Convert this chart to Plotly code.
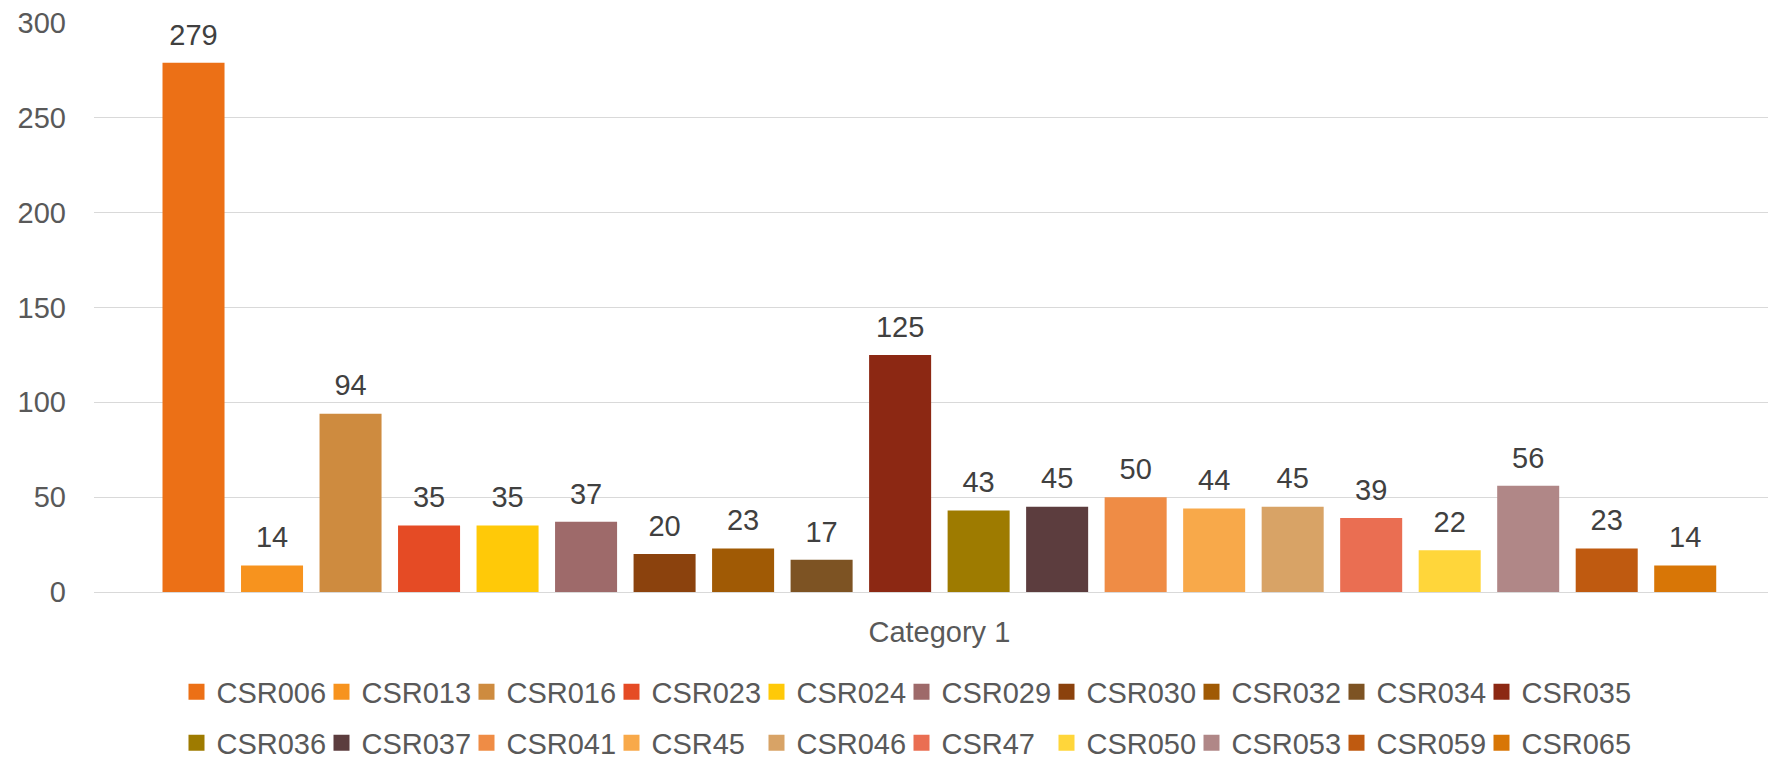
import plotly.graph_objects as go

category = ["Category 1"]
series_names = ["CSR006", "CSR013", "CSR016", "CSR023", "CSR024", "CSR029", "CSR030",
                "CSR032", "CSR034", "CSR035", "CSR036", "CSR037", "CSR041", "CSR45",
                "CSR046", "CSR47", "CSR050", "CSR053", "CSR059", "CSR065"]
series_values = [279, 14, 94, 35, 35, 37, 20, 23, 17, 125,
                 43, 45, 50, 44, 45, 39, 22, 56, 23, 14]
series_colors = ["#EC7016", "#F7931E", "#CE8B3F", "#E54B25", "#FFC908", "#9E6A6A",
                 "#8B420D", "#A05A05", "#7D5323", "#8C2813", "#9E7B00", "#5C3D3E",
                 "#EF8C45", "#F8A94A", "#D8A366", "#EA6E52", "#FFD63A", "#B08787",
                 "#BF5A10", "#D87606"]
y_ticks = [0, 50, 100, 150, 200, 250, 300]

FONT = "Liberation Sans, Arial, sans-serif"
FS = 29
W, H = 1768, 759

fig = go.Figure()

for name, val, col in zip(series_names, series_values, series_colors):
    fig.add_trace(go.Bar(
        x=category, y=[val], name=name,
        marker=dict(color=col, line=dict(width=0)),
        showlegend=False, hoverinfo="skip",
    ))

# value labels, grouped the same way as the bars
for name, val in zip(series_names, series_values):
    fig.add_trace(go.Scatter(
        x=category, y=[val], mode="markers+text",
        text=[str(val)], textposition="top center",
        textfont=dict(family=FONT, size=FS, color="#404040"),
        marker=dict(size=16, color="rgba(0,0,0,0)"),
        showlegend=False, hoverinfo="skip", cliponaxis=False,
    ))

# legend: one small legend per entry so the columns line up like excel's
legends = {}
for i, (name, col) in enumerate(zip(series_names, series_colors)):
    key = "legend" if i == 0 else f"legend{i + 1}"
    row, c = divmod(i, 10)
    fig.add_trace(go.Scatter(
        x=[None], y=[None], name=name, mode="markers",
        marker=dict(symbol="square", size=17, color=col, line=dict(width=0)),
        xaxis="x2", yaxis="y2", legend=key, hoverinfo="skip",
    ))
    legends[key] = dict(
        x=(176.5 + c * 145) / W, y=1 - (692 + row * 51) / H,
        xref="container", yref="container", xanchor="left", yanchor="middle",
        orientation="h", itemsizing="trace",
        font=dict(family=FONT, size=FS, color="#595959"),
        bgcolor="rgba(0,0,0,0)", itemclick=False, itemdoubleclick=False,
    )

fig.update_layout(
    width=W, height=H,
    margin=dict(l=94, r=0, t=23, b=167),
    paper_bgcolor="white", plot_bgcolor="white",
    barmode="group", bargap=0.062, bargroupgap=0.21,
    scattermode="group", scattergap=0.062,
    font=dict(family=FONT, size=FS, color="#595959"),
    xaxis=dict(range=[-0.505, 0.495], showgrid=False, showline=False, ticks="",
               tickfont=dict(family=FONT, size=FS, color="#595959"),
               ticklabelstandoff=20),
    yaxis=dict(range=[0, 300], tickvals=y_ticks, showgrid=True, gridcolor="#D9D9D9",
               gridwidth=1.3, zeroline=True, zerolinecolor="#D9D9D9", zerolinewidth=1.3,
               showline=False, ticks="",
               tickfont=dict(family=FONT, size=FS, color="#595959"),
               ticklabelstandoff=27),
    xaxis2=dict(overlaying="x", visible=False),
    yaxis2=dict(overlaying="y", visible=False),
    **legends,
)

fig.write_html("out.html", config={"displayModeBar": False},
               post_script="document.body.style.margin='0';")
